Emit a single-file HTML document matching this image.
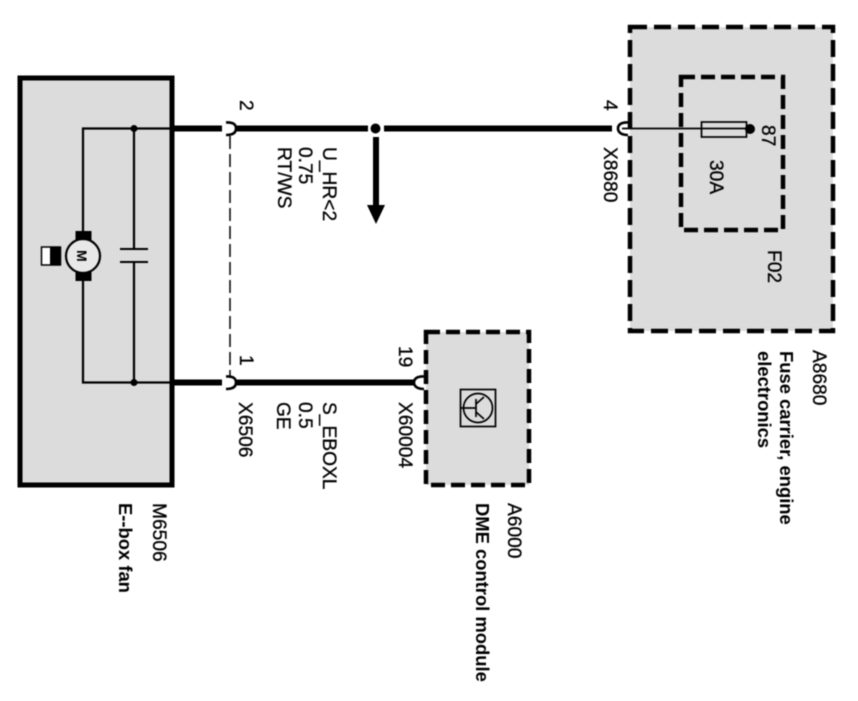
<!DOCTYPE html>
<html><head><meta charset="utf-8">
<style>
html,body{margin:0;padding:0;background:#fff;width:858px;height:701px;overflow:hidden}
svg{display:block;filter:blur(.55px)}
text{font-family:"Liberation Sans",sans-serif;font-size:19.2px;fill:#000;stroke:#000;stroke-width:.3px}
text.h{font-weight:bold;font-size:18.4px;stroke-width:0}
.b{stroke:#000;fill:none}
</style></head><body>
<svg width="858" height="701" viewBox="0 0 858 701" xmlns="http://www.w3.org/2000/svg">
<rect x="20" y="78" width="152" height="407" fill="#dcdcdc" stroke="#000" stroke-width="5"/>
<rect x="630" y="27" width="203" height="304" fill="#dcdcdc" stroke="#000" stroke-width="4.500" stroke-dasharray="17 7"/>
<rect x="681" y="77" width="102" height="153" fill="none" stroke="#000" stroke-width="4.500" stroke-dasharray="14 6"/>
<rect x="426" y="332" width="103" height="153" fill="#dcdcdc" stroke="#000" stroke-width="4.500" stroke-dasharray="14 6"/>

<!-- internal wiring -->
<path class="b" stroke-width="2.200" d="M172 128.500H83V231M83 281V382.500H172M134 128.500V249M134 262V382.500"/>
<path class="b" stroke-width="2" d="M120 249H148M120 262H148"/>
<circle cx="134" cy="128.500" r="3.500"/><circle cx="134" cy="382.500" r="3.500"/>
<circle cx="83" cy="256" r="17" fill="#e8e8e8" stroke="#000" stroke-width="2.200"/>
<rect x="75.500" y="231" width="16" height="9"/><rect x="75.500" y="272" width="16" height="9"/>
<rect x="41.500" y="247" width="19" height="18" fill="#fff" stroke="#000" stroke-width="1.500"/>
<rect x="50" y="247" width="11" height="18"/>
<text transform="translate(77 250) rotate(90)" style="font-size:14px;font-weight:bold;stroke-width:0">M</text>

<!-- wires -->
<path class="b" stroke-width="6" d="M172 128.500H222M237 128.500H368M384 128.500H612M172 382.500H222M237 382.500H414"/>
<path class="b" stroke-width="2.600" d="M226 122.500C234 122 236 125 236 128.500C236 132 234 135 226 135M226 376.500C234 376 236 379 236 382.500C236 386 234 389 226 389"/>
<path class="b" stroke-width="2.600" d="M628 122.500C621 122 618 125 618 128.500C618 132 621 135 628 135M424 376.500C417 376 414 379 414 382.500C414 386 417 389 424 389"/>
<path class="b" stroke-width="1.500" stroke-dasharray="13 5" d="M230 136V376"/>
<circle cx="375.500" cy="128.500" r="5"/>
<path class="b" stroke-width="6" d="M376 137V206"/>
<path d="M367 205H385L376 224Z"/>

<!-- fuse -->
<path class="b" stroke-width="1.800" d="M622 128.500H748"/>
<rect x="701.500" y="122" width="45" height="15" fill="none" stroke="#000" stroke-width="1.700"/>
<circle cx="750" cy="129" r="5"/>

<!-- transistor -->
<rect x="460.500" y="389.500" width="35" height="37" fill="#dcdcdc" stroke="#000" stroke-width="1.700"/>
<circle cx="478" cy="408" r="14.500" fill="none" stroke="#000" stroke-width="1.700"/>
<path class="b" stroke-width="1.700" d="M460 408H476M476 399V417M476 404L484 397M476 412L484 419"/>

<!-- labels -->
<g>
<text transform="translate(240 100) rotate(90)">2</text>
<text transform="translate(240 355) rotate(90)">1</text>
<text transform="translate(239 402) rotate(90)">X6506</text>
<text transform="translate(323 147) rotate(90)">U_HR&lt;2</text>
<text transform="translate(299 147) rotate(90)">0.75</text>
<text transform="translate(278 147) rotate(90)">RT/WS</text>
<text transform="translate(323 402) rotate(90)">S_EBOXL</text>
<text transform="translate(299 402) rotate(90)">0.5</text>
<text transform="translate(277 402) rotate(90)">GE</text>
<text transform="translate(399 346) rotate(90)">19</text>
<text transform="translate(399 402) rotate(90)">X60004</text>
<text transform="translate(604 100) rotate(90)">4</text>
<text transform="translate(604 147) rotate(90)">X8680</text>
<text transform="translate(762 125) rotate(90)">87</text>
<text transform="translate(710 160) rotate(90)">30A</text>
<text transform="translate(768 250) rotate(90)">F02</text>
<text transform="translate(153 503) rotate(90)">M6506</text>
<text class="h" transform="translate(119 503) rotate(90)">E--box fan</text>
<text transform="translate(508 503) rotate(90)">A6000</text>
<text class="h" transform="translate(476 503) rotate(90)">DME control module</text>
<text transform="translate(813 350) rotate(90)">A8680</text>
<text class="h" transform="translate(780 351) rotate(90)">Fuse carrier, engine</text>
<text class="h" transform="translate(758 351) rotate(90)">electronics</text>
</g>
</svg>
</body></html>
